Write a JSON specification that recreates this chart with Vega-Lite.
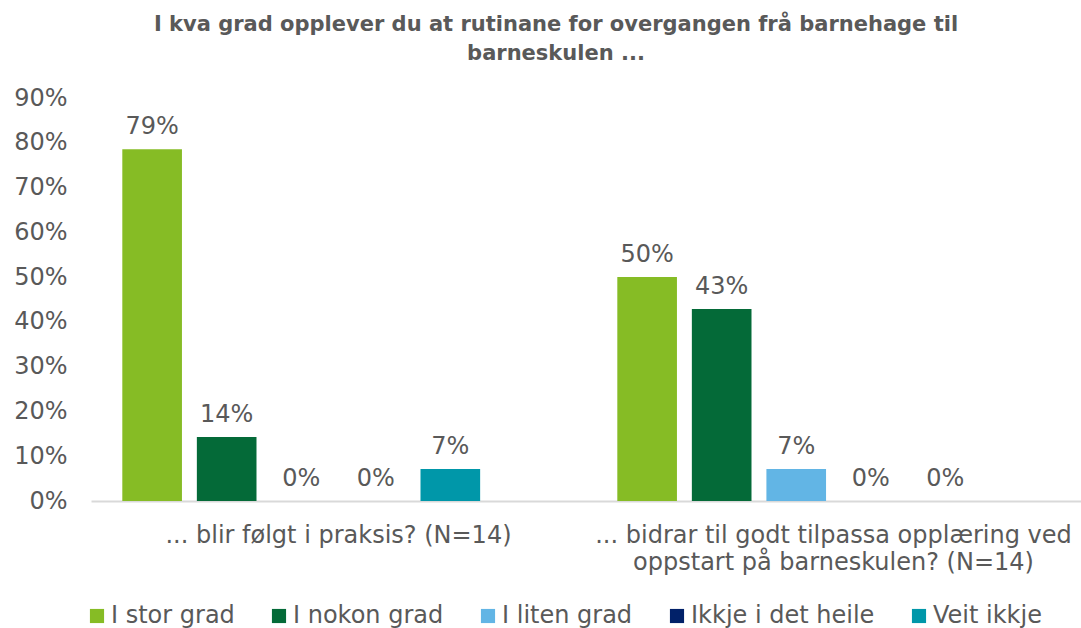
{
  "$schema": "https://vega.github.io/schema/vega-lite/v6.json",
  "width": 990,
  "height": 403,
  "autosize": "none",
  "padding": {"left": 91, "top": 98, "right": 0, "bottom": 127},
  "background": "white",
  "config": {
    "font": "DejaVu Sans",
    "view": {"stroke": null}
  },
  "title": {
    "text": ["I kva grad opplever du at rutinane for overgangen frå barnehage til", "barneskulen ..."],
    "fontSize": 21,
    "fontWeight": "bold",
    "color": "#595959",
    "anchor": "middle",
    "frame": "group",
    "dx": -30,
    "offset": 22,
    "lineHeight": 29
  },
  "data": {
    "values": [
      {"question": "q1", "answer": "I stor grad", "value": 0.7857},
      {"question": "q1", "answer": "I nokon grad", "value": 0.1429},
      {"question": "q1", "answer": "I liten grad", "value": 0},
      {"question": "q1", "answer": "Ikkje i det heile", "value": 0},
      {"question": "q1", "answer": "Veit ikkje", "value": 0.0714},
      {"question": "q2", "answer": "I stor grad", "value": 0.5},
      {"question": "q2", "answer": "I nokon grad", "value": 0.4286},
      {"question": "q2", "answer": "I liten grad", "value": 0.0714},
      {"question": "q2", "answer": "Ikkje i det heile", "value": 0},
      {"question": "q2", "answer": "Veit ikkje", "value": 0}
    ]
  },
  "encoding": {
    "x": {
      "field": "question",
      "type": "nominal",
      "sort": ["q1", "q2"],
      "scale": {"paddingInner": 0, "paddingOuter": 0},
      "axis": {
        "title": null,
        "labelAngle": 0,
        "labelExpr": "datum.value == 'q1' ? '... blir følgt i praksis? (N=14)' : ['... bidrar til godt tilpassa opplæring ved', 'oppstart på barneskulen? (N=14)']",
        "labelFontSize": 24,
        "labelColor": "#595959",
        "labelPadding": 22,
        "labelLineHeight": 27,
        "labelLimit": 0,
        "ticks": false,
        "domainColor": "#d9d9d9",
        "domainWidth": 2
      }
    },
    "xOffset": {
      "field": "answer",
      "type": "nominal",
      "scale": {
        "domain": ["I stor grad", "I nokon grad", "I liten grad", "Ikkje i det heile", "Veit ikkje", "_"],
        "paddingInner": 0.2,
        "paddingOuter": 0.42
      }
    },
    "y": {
      "field": "value",
      "type": "quantitative",
      "scale": {"domain": [0, 0.9], "nice": false},
      "axis": {
        "title": null,
        "format": ".0%",
        "values": [0, 0.1, 0.2, 0.3, 0.4, 0.5, 0.6, 0.7, 0.8, 0.9],
        "grid": false,
        "domain": false,
        "ticks": false,
        "labelFontSize": 24,
        "labelColor": "#595959",
        "labelPadding": 24
      }
    }
  },
  "layer": [
    {
      "mark": {"type": "bar"},
      "encoding": {
        "color": {
          "field": "answer",
          "type": "nominal",
          "scale": {
            "domain": ["I stor grad", "I nokon grad", "I liten grad", "Ikkje i det heile", "Veit ikkje"],
            "range": ["#86BC25", "#046A38", "#62B5E5", "#012169", "#0097A9"]
          },
          "legend": {
            "title": null,
            "orient": "none",
            "direction": "horizontal",
            "legendX": -6,
            "legendY": 506,
            "symbolType": "square",
            "symbolSize": 200,
            "symbolStrokeWidth": 0,
            "labelFontSize": 24,
            "labelColor": "#595959",
            "labelOffset": 2,
            "labelLimit": 0,
            "columnPadding": 32
          }
        }
      }
    },
    {
      "mark": {"type": "text", "baseline": "bottom", "dy": -10, "fontSize": 24, "color": "#595959"},
      "encoding": {
        "text": {"field": "value", "type": "quantitative", "format": ".0%"}
      }
    }
  ]
}
